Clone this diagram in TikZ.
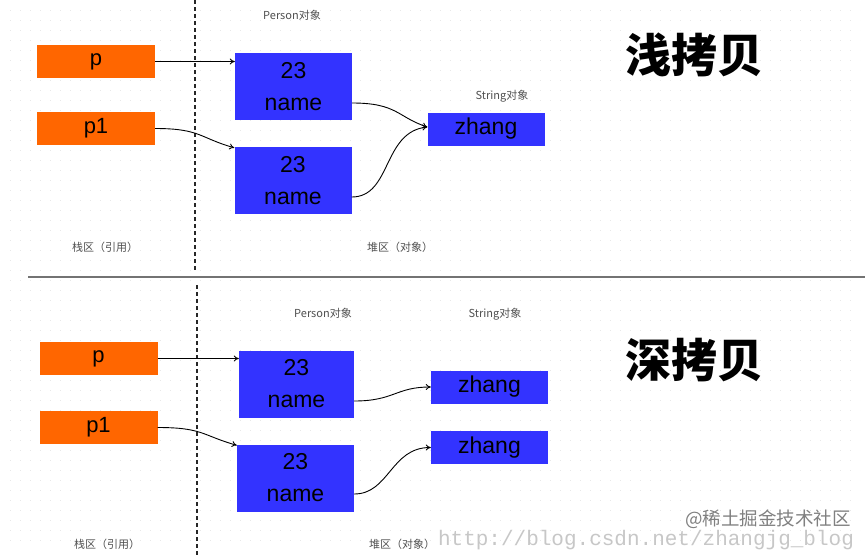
\documentclass[tikz,border=0pt]{standalone}
\usepackage{fontspec}
\setmainfont{Liberation Sans}
\newfontfamily\cjk{Noto Sans CJK SC}
\newfontfamily\wmono{Liberation Mono}
\usetikzlibrary{arrows.meta}
\definecolor{refblue}{RGB}{51,51,255}
\definecolor{reforange}{RGB}{255,102,0}
\definecolor{labelgray}{RGB}{80,80,80}
\tikzset{
  obox/.style={fill=reforange, draw=none, minimum width=118pt, minimum height=33pt, inner sep=0pt, font=\fontsize{22}{26}\selectfont},
  pbox/.style={fill=refblue, draw=none, minimum width=117pt, minimum height=67pt, inner sep=0pt, align=center, font=\fontsize{23}{32}\selectfont},
  sbox/.style={fill=refblue, draw=none, minimum width=117pt, minimum height=33pt, inner sep=0pt, font=\fontsize{23}{26}\selectfont},
  lbl/.style={text=labelgray, inner sep=0pt, font=\cjk\fontsize{11}{13}\selectfont},
  ttl/.style={inner sep=0pt, font=\cjk\bfseries\fontsize{46}{52}\selectfont},
  arr/.style={-{To[length=5pt,width=6pt]}, line width=0.9pt, black},
  divider/.style={dash pattern=on 4pt off 3pt, line width=1.3pt, black!85},
  griddots/.style={dash pattern=on 0.9pt off 9.1pt, line width=0.9pt, black!9},
}
\begin{document}
\begin{tikzpicture}[x=1pt,y=-1pt]
\useasboundingbox[fill=white] (0,0) rectangle (865,555);

% faint dotted background grid
\foreach \gy in {10,20,...,540} {
  \draw[griddots] (10,\gy) -- (860,\gy);
}

% dividers
\coordinate (dt1) at (195,0);
\coordinate (dt2) at (195,272);
\coordinate (db1) at (197,285);
\coordinate (db2) at (197,555);
\draw[divider] (dt1) -- (dt2);
\draw[divider] (db1) -- (db2);
\coordinate (h1) at (28,277);
\coordinate (h2) at (865,277);
\draw[line width=1.5pt, black!55] (h1) -- (h2);

% ---------- top: shallow copy ----------
\node[obox] (tp) at (96,61.5) {p};
\node[obox] (tq) at (96,128.5) {p1};
\node[pbox] (tb1) at (293.5,86.5) {23\\name};
\node[pbox] (tb2) at (293,180.5) {23\\name};
\node[sbox] (ts) at (486,129) {zhang};

\node[lbl] (tl1) at (292,15) {Person对象};
\node[lbl] (tl2) at (502,96) {String对象};
\node[lbl] (tl3) at (105,247) {栈区（引用）};
\node[lbl] (tl4) at (400,247) {堆区（对象）};
\node[ttl] (tt) at (694,55) {浅拷贝};

\draw[arr] (tp.east) -- (tb1.west |- tp.east);
\draw[arr] (tq.east) .. controls +(45,0) and +(-35,-10) .. ([yshift=-1pt]tb2.north west);
\draw[arr] ([yshift=-16.5pt]tb1.east) .. controls +(45,0) and +(-30,-10) .. ([yshift=2pt]ts.west);
\draw[arr] ([yshift=-16.5pt]tb2.east) .. controls +(40,0) and +(-45,5) .. ([yshift=2pt]ts.west);

% ---------- bottom: deep copy ----------
\node[obox] (bp) at (98.5,358.5) {p};
\node[obox] (bq) at (98.5,427.5) {p1};
\node[pbox, minimum width=115pt] (bb1) at (296.5,384) {23\\name};
\node[pbox] (bb2) at (295.5,478) {23\\name};
\node[sbox] (bs1) at (489.5,387) {zhang};
\node[sbox] (bs2) at (489.5,447.5) {zhang};

\node[lbl] (bl1) at (323,313) {Person对象};
\node[lbl] (bl2) at (495,314) {String对象};
\node[lbl] (bl3) at (107,544) {栈区（引用）};
\node[lbl] (bl4) at (402,544) {堆区（对象）};
\node[ttl] (bt) at (694,360) {深拷贝};

\draw[arr] (bp.east) -- (bb1.west |- bp.east);
\draw[arr] (bq.east) .. controls +(45,0) and +(-35,-10) .. ([yshift=-1pt]bb2.north west);
\draw[arr] ([yshift=-17pt]bb1.east) .. controls +(40,0) and +(-35,0) .. (bs1.west);
\draw[arr] ([yshift=-16pt]bb2.east) .. controls +(35,0) and +(-40,0) .. (bs2.west);

% watermarks
\node[inner sep=0pt, text=black!22, font=\wmono\fontsize{21}{24}\selectfont] (wm1) at (646,540) {http://blog.csdn.net/zhangjg\_blog};
\node[inner sep=0pt, text=black!50, font=\cjk\fontsize{18.5}{22}\selectfont] (wm2) at (768,519) {@稀土掘金技术社区};
\end{tikzpicture}
\end{document}
